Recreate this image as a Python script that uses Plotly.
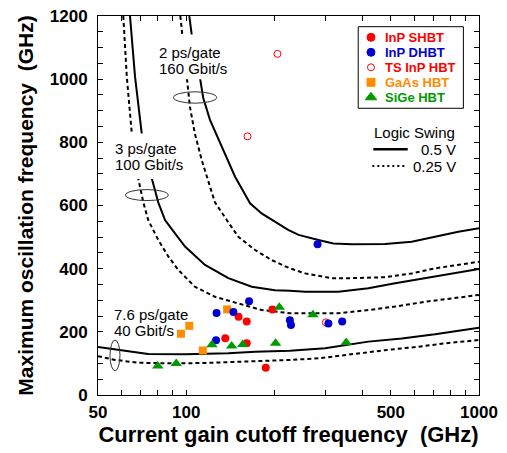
import math
import plotly.graph_objects as go

# ---------------- data ----------------
inp_shbt_ft = [197, 151, 161, 136, 161, 187]
inp_shbt_fmax = [271, 248, 233, 180, 164, 86]

inp_dhbt_ft = [281, 164, 127, 145, 226, 228, 306, 341, 126.5]
inp_dhbt_fmax = [477, 297, 260, 263, 237, 222, 226, 233, 173]

ts_inp_ft = [205, 162, 300]
ts_inp_fmax = [1080, 819, 230]

gaas_ft = [138, 102.5, 96, 114]
gaas_fmax = [271, 219, 194, 141]

sige_ft = [208, 271, 122.5, 143, 156, 202, 352, 80, 92.5]
sige_fmax = [278, 254, 159, 155, 160, 164, 166, 92, 100]

# constant gate-delay curves (solid: 0.5 V swing, dashed: 0.25 V swing)
c2ps_solid_ft = [102.5, 104.5, 111.8, 114.4, 120.6, 132.3, 146.9, 165.3, 181, 223, 242, 283, 318, 368, 478, 589, 708, 850, 1000]
c2ps_solid_fmax = [1200, 1140, 997, 940, 871, 786, 691, 607, 575, 523, 507, 491, 480, 477, 478, 485, 501, 517, 528]

c2ps_dash_ft = [95.5, 97, 100.5, 103, 107, 113, 120.6, 125.4, 137.6, 150.7, 172, 196, 226, 255, 314, 368, 478, 589, 708, 850, 1000]
c2ps_dash_fmax = [1200, 1140, 997, 913, 829, 744, 660, 610, 554, 501, 459, 427, 401, 385, 370, 370, 373, 385, 401, 412, 422]

c3ps_solid_ft = [64.3, 66.9, 70.5, 76.3, 80.3, 84.7, 91.6, 99.1, 116, 139.3, 167.5, 201, 226, 255, 331, 419, 517, 654, 807, 1000]
c3ps_solid_fmax = [1200, 1008, 829, 686, 610, 554, 512, 470, 412, 370, 343, 332, 330, 327, 327, 338, 354, 370, 385, 399]

c3ps_dash_ft = [61, 62.7, 65.2, 68.6, 71.4, 74.2, 80.3, 87, 94, 107, 125.4, 150.7, 181, 226, 268, 331, 419, 517, 654, 807, 1000]
c3ps_dash_fmax = [1200, 1008, 829, 686, 610, 554, 491, 438, 396, 343, 311, 290, 269, 259, 259, 259, 269, 280, 295, 306, 317]

c76ps_solid_ft = [50, 57.2, 74.2, 99.1, 139.3, 172, 226, 298, 419, 545, 708, 1000]
c76ps_solid_fmax = [152, 145, 130, 129, 132, 137, 140, 148, 169, 179, 192, 213]

c76ps_dash_ft = [50, 57.2, 68.6, 94, 122.3, 158.9, 226, 283, 368, 478, 621, 807, 1000]
c76ps_dash_fmax = [123, 111, 102, 100, 102, 105, 111, 116, 130, 142, 153, 166, 174]

x_tick_vals = [50, 60, 70, 80, 90, 100, 200, 300, 400, 500, 600, 700, 800, 900, 1000]
x_tick_text = ["50", "", "", "", "", "100", "", "", "", "500", "", "", "", "", "1000"]
y_tick_vals = list(range(0, 1201, 50))
y_tick_text = [str(v) if v % 200 == 0 else "" for v in y_tick_vals]

legend_names = ["InP SHBT", "InP DHBT", "TS InP HBT", "GaAs HBT", "SiGe HBT"]

# ---------------- styling ----------------
FONT = "Liberation Sans, Arial, sans-serif"
RED = "#ff0000"
BLUE = "#0000d0"
ORANGE = "#ff8c00"
GREEN = "#009a00"
legend_colors = [RED, BLUE, RED, ORANGE, GREEN]

fig = go.Figure()

curves = [
    (c2ps_solid_ft, c2ps_solid_fmax, "solid"),
    (c2ps_dash_ft, c2ps_dash_fmax, "4px,3px"),
    (c3ps_solid_ft, c3ps_solid_fmax, "solid"),
    (c3ps_dash_ft, c3ps_dash_fmax, "4px,3px"),
    (c76ps_solid_ft, c76ps_solid_fmax, "solid"),
    (c76ps_dash_ft, c76ps_dash_fmax, "4px,3px"),
]
for xs, ys, dash in curves:
    fig.add_trace(go.Scatter(x=xs, y=ys, mode="lines",
                             line=dict(color="black", width=2, dash=dash),
                             hoverinfo="skip"))

fig.add_trace(go.Scatter(x=ts_inp_ft, y=ts_inp_fmax, mode="markers", name="TS InP HBT",
                         marker=dict(symbol="circle-open", size=7, color=RED, line=dict(width=1, color=RED))))
fig.add_trace(go.Scatter(x=gaas_ft, y=gaas_fmax, mode="markers", name="GaAs HBT",
                         marker=dict(symbol="square", size=8, color=ORANGE)))
fig.add_trace(go.Scatter(x=inp_shbt_ft, y=inp_shbt_fmax, mode="markers", name="InP SHBT",
                         marker=dict(symbol="circle", size=8, color=RED)))
fig.add_trace(go.Scatter(x=inp_dhbt_ft, y=inp_dhbt_fmax, mode="markers", name="InP DHBT",
                         marker=dict(symbol="circle", size=8, color=BLUE)))
fig.add_trace(go.Scatter(x=sige_ft, y=sige_fmax, mode="markers", name="SiGe HBT",
                         marker=dict(symbol="triangle-up", size=10, color=GREEN)))

# ---- manual legend (markers on an overlay unit axis) ----
leg_x = 0.7165
leg_ys = [0.9438, 0.9042, 0.8646, 0.8251, 0.7855]
leg_symbols = ["circle", "circle", "circle-open", "square", "triangle-up"]
leg_sizes = [8, 8, 7, 8, 10]
for yv, sym, col, sz in zip(leg_ys, leg_symbols, legend_colors, leg_sizes):
    fig.add_trace(go.Scatter(x=[leg_x], y=[yv], xaxis="x2", yaxis="y2", mode="markers",
                             marker=dict(symbol=sym, size=sz, color=col, line=dict(width=1, color=col)),
                             hoverinfo="skip"))

shapes = []
# legend box
shapes.append(dict(type="rect", xref="paper", yref="paper", x0=0.683, x1=0.959, y0=0.7565, y1=0.9718,
                   line=dict(color="black", width=1), fillcolor="white", layer="below"))
# white masks behind curve labels
shapes.append(dict(type="rect", xref="paper", yref="paper", x0=0.150, x1=0.340, y0=0.833, y1=0.951,
                   line=dict(width=0), fillcolor="white", layer="above"))
shapes.append(dict(type="rect", xref="paper", yref="paper", x0=0.034, x1=0.230, y0=0.570, y1=0.690,
                   line=dict(width=0), fillcolor="white", layer="above"))
# ellipses
for x0, x1, y0, y1 in [(0.198, 0.3115, 0.770, 0.800), (0.0722, 0.1845, 0.513, 0.542), (0.0315, 0.0577, 0.064, 0.145)]:
    shapes.append(dict(type="circle", xref="paper", yref="paper", x0=x0, x1=x1, y0=y0, y1=y1,
                       line=dict(color="#333333", width=1), layer="above"))
# logic swing samples
shapes.append(dict(type="line", xref="paper", yref="paper", x0=0.7226, x1=0.8129, y0=0.6483, y1=0.6483,
                   line=dict(color="black", width=2.5)))
shapes.append(dict(type="line", xref="paper", yref="paper", x0=0.7200, x1=0.8100, y0=0.6042, y1=0.6042,
                   line=dict(color="black", width=2, dash="2px,3px")))

annotations = []
def txt(x, y, s, size=15, color="black", anchor="left", weight="normal"):
    annotations.append(dict(x=x, y=y, xref="paper", yref="paper", text=s, showarrow=False,
                            xanchor=anchor, yanchor="middle",
                            font=dict(family=FONT, size=size, color=color, weight=weight)))

for name, col, yv in zip(legend_names, legend_colors, leg_ys):
    txt(0.749, yv, name, size=13, color=col, weight="bold")

txt(0.8307, 0.6926, "Logic Swing", anchor="center")
txt(0.944, 0.6483, "0.5 V", anchor="right")
txt(0.944, 0.6042, "0.25 V", anchor="right")

txt(0.155, 0.905, "2 ps/gate")
txt(0.155, 0.862, "160 Gbit/s")
txt(0.0394, 0.650, "3 ps/gate")
txt(0.0394, 0.607, "100 Gbit/s")
txt(0.0367, 0.213, "7.6 ps/gate")
txt(0.0367, 0.170, "40 Gbit/s")

fig.update_layout(
    width=507, height=453,
    margin=dict(l=98, r=28, t=16, b=58, autoexpand=False),
    plot_bgcolor="white", paper_bgcolor="white",
    showlegend=False,
    font=dict(family=FONT, color="black"),
    shapes=shapes, annotations=annotations,
    xaxis=dict(type="log", range=[math.log10(50), math.log10(1000)], automargin=False,
               tickmode="array", tickvals=x_tick_vals, ticktext=x_tick_text,
               ticks="inside", ticklen=5, tickwidth=1, tickcolor="black",
               showline=True, linecolor="black", linewidth=1, mirror="ticks",
               showgrid=False, zeroline=False, ticklabelstandoff=2,
               tickfont=dict(family=FONT, size=17, weight="bold", color="black"),
               title=dict(text="Current gain cutoff frequency\u00a0 (GHz)", standoff=4,
                          font=dict(family=FONT, size=22, weight="bold", color="black"))),
    yaxis=dict(range=[0, 1200], tickmode="array", tickvals=y_tick_vals, ticktext=y_tick_text,
               automargin=False,
               ticks="inside", ticklen=5, tickwidth=1, tickcolor="black",
               showline=True, linecolor="black", linewidth=1, mirror="ticks",
               showgrid=False, zeroline=False, ticklabelstandoff=6,
               tickfont=dict(family=FONT, size=17, weight="bold", color="black"),
               title=dict(text="Maximum oscillation frequency\u00a0 (GHz)", standoff=10,
                          font=dict(family=FONT, size=21, weight="bold", color="black"))),
    xaxis2=dict(overlaying="x", range=[0, 1], visible=False, fixedrange=True),
    yaxis2=dict(overlaying="y", range=[0, 1], visible=False, fixedrange=True),
)

fig.write_html("out.html", config={"displayModeBar": False},
               post_script="document.body.style.margin='0';document.body.style.padding='0';document.body.style.overflow='hidden';")
